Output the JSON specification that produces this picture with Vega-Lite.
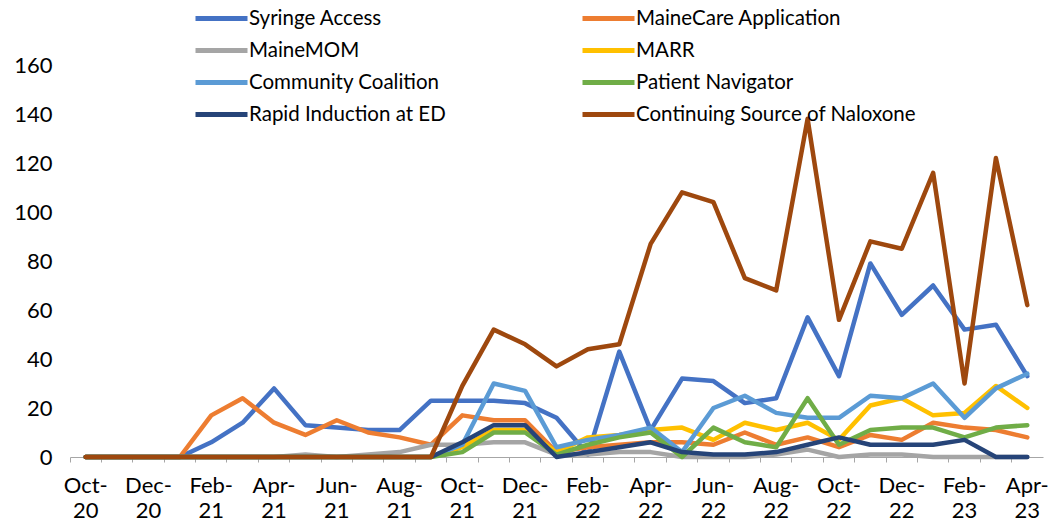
{
  "$schema": "https://vega.github.io/schema/vega-lite/v6.json",
  "autosize": "none",
  "width": 973,
  "height": 392,
  "padding": {"left": 70, "top": 65, "right": 7, "bottom": 72},
  "background": "white",
  "config": {"view": {"stroke": null}, "font": "Lato"},
  "data": {"values": [
    {"m":"Oct-20","Syringe Access":0,"MaineCare Application":0,"MaineMOM":0,"MARR":0,"Community Coalition":0,"Patient Navigator":0,"Rapid Induction at ED":0,"Continuing Source of Naloxone":0},
    {"m":"Nov-20","Syringe Access":0,"MaineCare Application":0,"MaineMOM":0,"MARR":0,"Community Coalition":0,"Patient Navigator":0,"Rapid Induction at ED":0,"Continuing Source of Naloxone":0},
    {"m":"Dec-20","Syringe Access":0,"MaineCare Application":0,"MaineMOM":0,"MARR":0,"Community Coalition":0,"Patient Navigator":0,"Rapid Induction at ED":0,"Continuing Source of Naloxone":0},
    {"m":"Jan-21","Syringe Access":0,"MaineCare Application":0,"MaineMOM":0,"MARR":0,"Community Coalition":0,"Patient Navigator":0,"Rapid Induction at ED":0,"Continuing Source of Naloxone":0},
    {"m":"Feb-21","Syringe Access":6,"MaineCare Application":17,"MaineMOM":0,"MARR":0,"Community Coalition":0,"Patient Navigator":0,"Rapid Induction at ED":0,"Continuing Source of Naloxone":0},
    {"m":"Mar-21","Syringe Access":14,"MaineCare Application":24,"MaineMOM":0,"MARR":0,"Community Coalition":0,"Patient Navigator":0,"Rapid Induction at ED":0,"Continuing Source of Naloxone":0},
    {"m":"Apr-21","Syringe Access":28,"MaineCare Application":14,"MaineMOM":0,"MARR":0,"Community Coalition":0,"Patient Navigator":0,"Rapid Induction at ED":0,"Continuing Source of Naloxone":0},
    {"m":"May-21","Syringe Access":13,"MaineCare Application":9,"MaineMOM":1,"MARR":0,"Community Coalition":0,"Patient Navigator":0,"Rapid Induction at ED":0,"Continuing Source of Naloxone":0},
    {"m":"Jun-21","Syringe Access":12,"MaineCare Application":15,"MaineMOM":0,"MARR":0,"Community Coalition":0,"Patient Navigator":0,"Rapid Induction at ED":0,"Continuing Source of Naloxone":0},
    {"m":"Jul-21","Syringe Access":11,"MaineCare Application":10,"MaineMOM":1,"MARR":0,"Community Coalition":0,"Patient Navigator":0,"Rapid Induction at ED":0,"Continuing Source of Naloxone":0},
    {"m":"Aug-21","Syringe Access":11,"MaineCare Application":8,"MaineMOM":2,"MARR":0,"Community Coalition":0,"Patient Navigator":0,"Rapid Induction at ED":0,"Continuing Source of Naloxone":0},
    {"m":"Sep-21","Syringe Access":23,"MaineCare Application":5,"MaineMOM":5,"MARR":0,"Community Coalition":0,"Patient Navigator":0,"Rapid Induction at ED":0,"Continuing Source of Naloxone":0},
    {"m":"Oct-21","Syringe Access":23,"MaineCare Application":17,"MaineMOM":5,"MARR":4,"Community Coalition":5,"Patient Navigator":2,"Rapid Induction at ED":6,"Continuing Source of Naloxone":29},
    {"m":"Nov-21","Syringe Access":23,"MaineCare Application":15,"MaineMOM":6,"MARR":11,"Community Coalition":30,"Patient Navigator":10,"Rapid Induction at ED":13,"Continuing Source of Naloxone":52},
    {"m":"Dec-21","Syringe Access":22,"MaineCare Application":15,"MaineMOM":6,"MARR":11,"Community Coalition":27,"Patient Navigator":10,"Rapid Induction at ED":13,"Continuing Source of Naloxone":46},
    {"m":"Jan-22","Syringe Access":16,"MaineCare Application":2,"MaineMOM":1,"MARR":2,"Community Coalition":4,"Patient Navigator":1,"Rapid Induction at ED":0,"Continuing Source of Naloxone":37},
    {"m":"Feb-22","Syringe Access":1,"MaineCare Application":4,"MaineMOM":1,"MARR":8,"Community Coalition":7,"Patient Navigator":5,"Rapid Induction at ED":2,"Continuing Source of Naloxone":44},
    {"m":"Mar-22","Syringe Access":43,"MaineCare Application":5,"MaineMOM":2,"MARR":9,"Community Coalition":9,"Patient Navigator":8,"Rapid Induction at ED":4,"Continuing Source of Naloxone":46},
    {"m":"Apr-22","Syringe Access":11,"MaineCare Application":6,"MaineMOM":2,"MARR":11,"Community Coalition":12,"Patient Navigator":10,"Rapid Induction at ED":6,"Continuing Source of Naloxone":87},
    {"m":"May-22","Syringe Access":32,"MaineCare Application":6,"MaineMOM":0,"MARR":12,"Community Coalition":2,"Patient Navigator":0,"Rapid Induction at ED":2,"Continuing Source of Naloxone":108},
    {"m":"Jun-22","Syringe Access":31,"MaineCare Application":5,"MaineMOM":0,"MARR":7,"Community Coalition":20,"Patient Navigator":12,"Rapid Induction at ED":1,"Continuing Source of Naloxone":104},
    {"m":"Jul-22","Syringe Access":22,"MaineCare Application":10,"MaineMOM":0,"MARR":14,"Community Coalition":25,"Patient Navigator":6,"Rapid Induction at ED":1,"Continuing Source of Naloxone":73},
    {"m":"Aug-22","Syringe Access":24,"MaineCare Application":5,"MaineMOM":1,"MARR":11,"Community Coalition":18,"Patient Navigator":4,"Rapid Induction at ED":2,"Continuing Source of Naloxone":68},
    {"m":"Sep-22","Syringe Access":57,"MaineCare Application":8,"MaineMOM":3,"MARR":14,"Community Coalition":16,"Patient Navigator":24,"Rapid Induction at ED":5,"Continuing Source of Naloxone":138},
    {"m":"Oct-22","Syringe Access":33,"MaineCare Application":4,"MaineMOM":0,"MARR":7,"Community Coalition":16,"Patient Navigator":5,"Rapid Induction at ED":8,"Continuing Source of Naloxone":56},
    {"m":"Nov-22","Syringe Access":79,"MaineCare Application":9,"MaineMOM":1,"MARR":21,"Community Coalition":25,"Patient Navigator":11,"Rapid Induction at ED":5,"Continuing Source of Naloxone":88},
    {"m":"Dec-22","Syringe Access":58,"MaineCare Application":7,"MaineMOM":1,"MARR":24,"Community Coalition":24,"Patient Navigator":12,"Rapid Induction at ED":5,"Continuing Source of Naloxone":85},
    {"m":"Jan-23","Syringe Access":70,"MaineCare Application":14,"MaineMOM":0,"MARR":17,"Community Coalition":30,"Patient Navigator":12,"Rapid Induction at ED":5,"Continuing Source of Naloxone":116},
    {"m":"Feb-23","Syringe Access":52,"MaineCare Application":12,"MaineMOM":0,"MARR":18,"Community Coalition":16,"Patient Navigator":8,"Rapid Induction at ED":7,"Continuing Source of Naloxone":30},
    {"m":"Mar-23","Syringe Access":54,"MaineCare Application":11,"MaineMOM":0,"MARR":29,"Community Coalition":28,"Patient Navigator":12,"Rapid Induction at ED":0,"Continuing Source of Naloxone":122},
    {"m":"Apr-23","Syringe Access":33,"MaineCare Application":8,"MaineMOM":0,"MARR":20,"Community Coalition":34,"Patient Navigator":13,"Rapid Induction at ED":0,"Continuing Source of Naloxone":62}
  ]},
  "transform": [
    {"fold": ["Syringe Access","MaineCare Application","MaineMOM","MARR","Community Coalition","Patient Navigator","Rapid Induction at ED","Continuing Source of Naloxone"], "as": ["series","value"]}
  ],
  "mark": {"type": "line", "strokeWidth": 4.5, "strokeJoin": "round", "strokeCap": "round"},
  "encoding": {
    "x": {
      "field": "m", "type": "ordinal", "sort": null, "title": null,
      "scale": {"type": "band", "paddingInner": 0, "paddingOuter": 0},
      "axis": {
        "bandPosition": 0,
        "labelAngle": 0,
        "labelOverlap": false,
        "labelExpr": "test(/^(Oct|Dec|Feb|Apr|Jun|Aug)/, datum.value) ? [slice(datum.value,0,4), slice(datum.value,4)] : ''",
        "labelFontSize": 22,
        "labelColor": "#000000",
        "labelLineHeight": 25,
        "labelPadding": 13,
        "labelBaseline": "top",
        "domainColor": "#A6A6A6",
        "domainWidth": 1,
        "tickColor": "#A6A6A6",
        "tickSize": 5,
        "grid": false
      }
    },
    "y": {
      "field": "value", "type": "quantitative", "title": null,
      "scale": {"domain": [0, 160], "nice": false},
      "axis": {
        "values": [0, 20, 40, 60, 80, 100, 120, 140, 160],
        "domain": false, "ticks": false, "grid": false,
        "labelFontSize": 22, "labelColor": "#000000", "labelPadding": 18
      }
    },
    "color": {
      "field": "series", "type": "nominal", "title": null,
      "scale": {
        "domain": ["Syringe Access","MaineCare Application","MaineMOM","MARR","Community Coalition","Patient Navigator","Rapid Induction at ED","Continuing Source of Naloxone"],
        "range": ["#4472C4","#ED7D31","#A5A5A5","#FFC000","#5B9BD5","#70AD47","#264478","#9E480E"]
      },
      "legend": {
        "orient": "none",
        "legendX": 139,
        "legendY": -59,
        "columns": 2,
        "direction": "horizontal",
        "symbolType": "M-2.6,0H2.6",
        "symbolStrokeWidth": 5,
        "symbolSize": 400,
        "symbolFillColor": "transparent",
        "labelFontSize": 20.5,
        "labelColor": "#000000",
        "labelOffset": 15,
        "labelLimit": 400,
        "rowPadding": 9,
        "columnPadding": 42,
        "gridAlign": "all"
      }
    }
  }
}
